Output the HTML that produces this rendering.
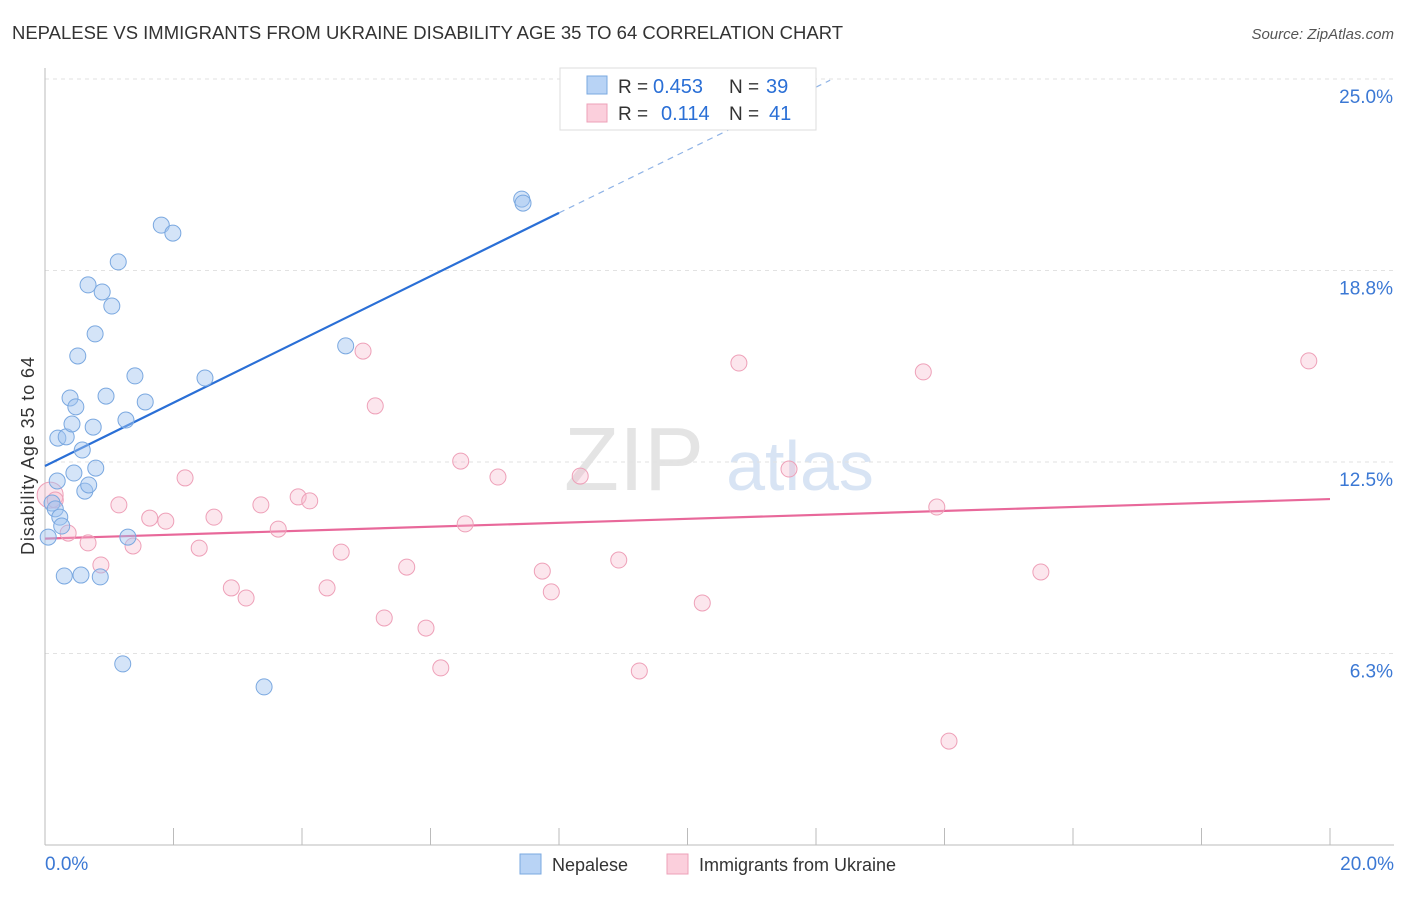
<!DOCTYPE html>
<html><head><meta charset="utf-8"><style>
body{margin:0;background:#fff;font-family:"Liberation Sans",sans-serif}
svg text{font-family:"Liberation Sans",sans-serif}
</style></head><body>
<svg id="chart" width="1406" height="892">
<text x="12" y="39" font-size="18" fill="#333" textLength="831" lengthAdjust="spacingAndGlyphs">NEPALESE VS IMMIGRANTS FROM UKRAINE DISABILITY AGE 35 TO 64 CORRELATION CHART</text>
<text x="1394" y="39" font-size="15" fill="#555" font-style="italic" text-anchor="end">Source: ZipAtlas.com</text>
<text x="634" y="490" font-size="90" fill="#e4e4e4" font-family="Liberation Serif" text-anchor="middle">ZIP</text>
<text x="800" y="490" font-size="70" fill="#d8e4f4" text-anchor="middle">atlas</text>
<text transform="translate(34,456) rotate(-90)" font-size="18" fill="#333" text-anchor="middle" textLength="198">Disability Age 35 to 64</text>
<g id="grid"></g><g id="axes"></g><g id="lines"></g><g id="pts"></g>
<g>
<rect x="560" y="68" width="256" height="62" fill="#fff" stroke="#ddd"/>
<rect x="587" y="76" width="20" height="18" fill="#b8d3f5" stroke="#7aa8e0"/>
<rect x="587" y="104" width="20" height="18" fill="#fbcfdc" stroke="#eea0b8"/>
<text x="618" y="93" font-size="19" fill="#333">R =</text>
<text x="653" y="93" font-size="20" fill="#2a6fd6">0.453</text>
<text x="729" y="93" font-size="19" fill="#333">N =</text>
<text x="766" y="93" font-size="20" fill="#2a6fd6">39</text>
<text x="618" y="120" font-size="19" fill="#333">R =</text>
<text x="661" y="120" font-size="20" fill="#2a6fd6">0.114</text>
<text x="729" y="120" font-size="19" fill="#333">N =</text>
<text x="769" y="120" font-size="20" fill="#2a6fd6">41</text>
</g>
<g>
<rect x="520" y="854" width="21" height="20" fill="#b8d3f5" stroke="#7aa8e0"/>
<text x="552" y="871" font-size="18" fill="#333">Nepalese</text>
<rect x="667" y="854" width="21" height="20" fill="#fbcfdc" stroke="#eea0b8"/>
<text x="699" y="871" font-size="18" fill="#333">Immigrants from Ukraine</text>
</g>
</svg>
<script>
const yTicks=[6.25,12.5,18.75,25];
const yTickLabels=["6.3%","12.5%","18.8%","25.0%"];
const xTickLabels=["0.0%","20.0%"];
const blueX=[0.05,0.11,0.16,0.19,0.23,0.26,0.30,0.20,0.33,0.39,0.42,0.48,0.51,0.45,0.58,0.56,0.62,0.68,0.75,0.78,0.79,0.67,0.89,0.86,0.95,1.04,1.14,1.26,1.29,1.40,1.56,1.81,1.99,2.49,1.21,3.41,4.68,7.42,7.44];
const blueY=[10.05,11.16,10.97,11.88,10.70,10.41,8.78,13.28,13.32,14.59,13.74,14.30,15.96,12.14,12.89,8.81,11.55,11.75,13.64,16.68,12.30,18.28,18.05,8.75,14.65,17.59,19.03,13.87,10.05,15.31,14.46,20.23,19.97,15.24,5.91,5.16,16.29,21.08,20.95];
const pinkX=[0.08,0.16,0.36,0.67,0.87,1.15,1.37,1.63,1.88,2.18,2.40,2.63,2.90,3.13,3.36,3.63,3.94,4.12,4.39,4.61,4.95,5.14,5.28,5.63,5.93,6.16,6.47,6.54,7.05,7.74,7.88,8.33,8.93,9.25,10.23,10.80,11.58,13.67,13.88,14.07,15.50,19.67];
const pinkY=[11.42,11.26,10.18,9.86,9.14,11.10,9.76,10.67,10.57,11.98,9.69,10.70,8.39,8.06,11.10,10.31,11.36,11.23,8.39,9.56,16.12,14.33,7.41,9.07,7.08,5.78,12.53,10.48,12.01,8.94,8.26,12.04,9.30,5.68,7.90,15.73,12.27,15.44,11.03,3.39,8.91,15.80];
const blueTrend=[[0,12.37],[8,20.63],[12.22,24.96]];
const pinkTrend=[[0,10.0],[20,11.29]];
const X=v=>45+v*64.25, Y=v=>845-v*30.64;
const NS="http://www.w3.org/2000/svg";
function mk(t,a,p){const e=document.createElementNS(NS,t);for(const k in a)e.setAttribute(k,a[k]);document.getElementById(p).appendChild(e);return e;}
yTicks.forEach((t,i)=>{
 const l=mk('line',{x1:45,x2:1394,y1:Y(t),y2:Y(t),stroke:'#e2e2e2','stroke-dasharray':'4,4'},'grid');
 
 
 const tx=mk('text',{x:1393,y:Y(t)+24,'font-size':19,fill:'#3b78d4','text-anchor':'end'},'grid');
 tx.textContent=yTickLabels[i];
 
 
});
let ax=mk('line',{x1:45,x2:45,y1:68,y2:845,stroke:'#bbb'},'axes');


ax=mk('line',{x1:45,x2:1394,y1:845,y2:845,stroke:'#bbb'},'axes');


for(let i=0;i<=10;i++){const tk=mk('line',{x1:X(i*2),x2:X(i*2),y1:828,y2:845,stroke:'#bbb'},'axes');
 
 }
[[0,'start',45],[20,'end',1394]].forEach((d,i)=>{const t=mk('text',{x:d[2],y:870,'font-size':19,fill:'#3b78d4','text-anchor':d[1]},'axes');t.textContent=xTickLabels[i];
 
 });
let tl=mk('line',{x1:X(blueTrend[0][0]),y1:Y(blueTrend[0][1]),x2:X(blueTrend[1][0]),y2:Y(blueTrend[1][1]),stroke:'#2a6fd6','stroke-width':2.2},'lines');


tl=mk('line',{x1:X(blueTrend[1][0]),y1:Y(blueTrend[1][1]),x2:X(blueTrend[2][0]),y2:Y(blueTrend[2][1]),stroke:'#8fb3e6','stroke-width':1.2,'stroke-dasharray':'6,5'},'lines');


tl=mk('line',{x1:X(pinkTrend[0][0]),y1:Y(pinkTrend[0][1]),x2:X(pinkTrend[1][0]),y2:Y(pinkTrend[1][1]),stroke:'#e8689a','stroke-width':2.2},'lines');


pinkX.forEach((x,i)=>{const c=mk('circle',{cx:X(x),cy:Y(pinkY[i]),r:i==0?13:8,fill:'rgba(246,182,203,0.35)',stroke:'#eea0b8','stroke-width':1},'pts');
 
 });
blueX.forEach((x,i)=>{const c=mk('circle',{cx:X(x),cy:Y(blueY[i]),r:8,fill:'rgba(160,196,240,0.45)',stroke:'#7aa8e0','stroke-width':1},'pts');
 
 });
</script>
</body></html>
